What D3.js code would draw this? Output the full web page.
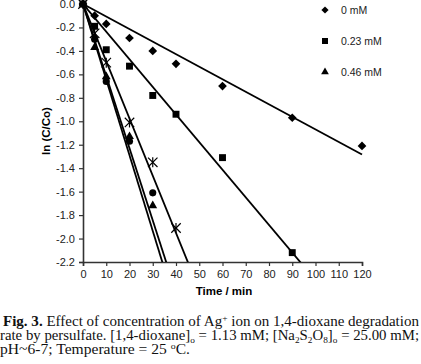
<!DOCTYPE html>
<html>
<head>
<meta charset="utf-8">
<script src="https://cdn.jsdelivr.net/npm/d3@7"></script>
<style>
body { margin: 0; background: #fff; }
svg { display: block; }
.tick text { font-family: "Liberation Sans", Arial, sans-serif; font-size: 11px; fill: #222; }
.cap { font-family: "Liberation Serif", "Times New Roman", serif; font-size: 14.3px; fill: #111; }
</style>
</head>
<body>
<script>
"use strict";
// series: time (min) vs ln(C/Co)
const xTicks = [0, 10, 20, 30, 40, 50, 60, 70, 80, 90, 100, 110, 120];
const yTicks = [0, -0.2, -0.4, -0.6, -0.8, -1.0, -1.2, -1.4, -1.6, -1.8, -2.0, -2.2];
const diamondT = [0, 5, 10, 20, 30, 40, 60, 90, 120];
const diamondV = [0, -0.10, -0.17, -0.29, -0.40, -0.51, -0.70, -0.97, -1.21];
const squareT = [0, 5, 10, 20, 30, 40, 60, 90];
const squareV = [0, -0.19, -0.39, -0.53, -0.78, -0.94, -1.31, -2.12];
const triangleT = [0, 5, 10, 20, 30];
const triangleV = [0, -0.37, -0.62, -1.13, -1.72];
const circleT = [0, 5, 10, 20, 30];
const circleV = [0, -0.30, -0.66, -1.17, -1.61];
const starT = [0, 5, 10, 20, 30, 40];
const starV = [0, -0.25, -0.50, -1.01, -1.35, -1.91];
// fitted lines: slope of ln(C/Co) per min, through origin
const fitSlopes = [-0.0107, -0.02355, -0.0645, -0.0615, -0.0488];
const fitEnds = [120, 120, 120, 120, 120];
const legendNames = ["0 mM", "0.23 mM", "0.46 mM"];

const W = 421, H = 364;
const m = {left: 83, right: 59, top: 4, bottom: 102};
const svg = d3.select("body").append("svg").attr("width", W).attr("height", H);
const x = d3.scaleLinear().domain([0, 120]).range([m.left, W - m.right]);
const y = d3.scaleLinear().domain([-2.2, 0]).range([H - m.bottom, m.top]);

svg.append("defs").append("clipPath").attr("id", "clip")
	.append("rect").attr("x", m.left).attr("y", m.top - 2).attr("width", W - m.left).attr("height", y(-2.2) - m.top + 2);

const xAxis = d3.axisBottom(x).tickValues(xTicks).tickSize(4).tickPadding(4).tickFormat(d3.format("d"));
const yAxis = d3.axisLeft(y).tickValues(yTicks).tickSize(4).tickPadding(4).tickFormat(d3.format(".1f"));
const gx = svg.append("g").attr("transform", "translate(0," + y(-2.2) + ")").call(xAxis);
const gy = svg.append("g").attr("transform", "translate(" + m.left + ",0)").call(yAxis);
[gx, gy].forEach(g => {
	g.select(".domain").attr("stroke", "#333").attr("stroke-width", 1.6);
	g.selectAll(".tick line").attr("stroke", "#333").attr("stroke-width", 1.2);
});
gy.selectAll(".tick text").text(d => d === 0 ? "0.0" : d3.format(".1f")(d).replace("−", "-"));

// regression lines
const lines = svg.append("g").attr("clip-path", "url(#clip)");
fitSlopes.forEach((s, i) => {
	lines.append("line")
		.attr("x1", x(0)).attr("y1", y(0))
		.attr("x2", x(fitEnds[i])).attr("y2", y(s * fitEnds[i]))
		.attr("stroke", "#000").attr("stroke-width", 1.8);
});

const pts = svg.append("g").attr("fill", "#000");
function sym(type, size) { return d3.symbol().type(type).size(size); }
function plot(ts, vs, type, size, rot) {
	pts.selectAll(null).data(ts).enter().append("path")
		.attr("d", sym(type, size))
		.attr("transform", (d, i) => "translate(" + x(d) + "," + y(vs[i]) + ")" + (rot ? " rotate(" + rot + ")" : ""));
}
plot(diamondT, diamondV, d3.symbolSquare, 38, 45);
plot(squareT, squareV, d3.symbolSquare, 48, 0);
plot(triangleT, triangleV, d3.symbolTriangle, 34, 0);
plot(circleT, circleV, d3.symbolCircle, 40, 0);
pts.selectAll(null).data(starT).enter().append("path")
	.attr("d", d3.symbol().type(d3.symbolTimes).size(60))
	.attr("transform", (d, i) => "translate(" + x(d) + "," + y(starV[i]) + ")")
	.attr("fill", "none").attr("stroke", "#000").attr("stroke-width", 1.2);
pts.selectAll(null).data(starT).enter().append("line")
	.attr("x1", d => x(d)).attr("x2", d => x(d))
	.attr("y1", (d, i) => y(starV[i]) - 5).attr("y2", (d, i) => y(starV[i]) + 5)
	.attr("stroke", "#000").attr("stroke-width", 1.2);

// legend
const leg = svg.append("g");
const legSym = [[d3.symbolSquare, 26, 45], [d3.symbolSquare, 36, 0], [d3.symbolTriangle, 26, 0]];
legendNames.forEach((n, i) => {
	const ly = 10 + i * 31;
	leg.append("path").attr("d", sym(legSym[i][0], legSym[i][1]))
		.attr("transform", "translate(325," + ly + ") rotate(" + legSym[i][2] + ")");
	leg.append("text").attr("x", 341).attr("y", ly + 4).text(n)
		.style("font-family", "Liberation Sans, Arial, sans-serif").style("font-size", "10.5px").style("fill", "#222");
});

// axis titles
svg.append("text").attr("x", 224).attr("y", 295).attr("text-anchor", "middle")
	.style("font-family", "Liberation Sans, Arial, sans-serif").style("font-weight", "bold").style("font-size", "11.5px")
	.text("Time / min");
svg.append("text").attr("transform", "translate(50,131) rotate(-90)").attr("text-anchor", "middle")
	.style("font-family", "Liberation Sans, Arial, sans-serif").style("font-weight", "bold").style("font-size", "11.5px")
	.text("ln (C/Co)");

// caption
const cap = svg.append("g").attr("class", "cap");
function sub(t, txt) { t.append("tspan").attr("dy", 3).style("font-size", "9px").text(txt); }
function sup(t, txt) { t.append("tspan").attr("dy", -5).style("font-size", "9px").text(txt); }
function back(t, txt, d) { t.append("tspan").attr("dy", d).text(txt); }
const c1 = cap.append("text").attr("x", 3).attr("y", 326);
c1.append("tspan").style("font-weight", "bold").text("Fig. 3.");
c1.append("tspan").text(" Effect of concentration of Ag");
sup(c1, "+");
back(c1, " ion on 1,4-dioxane degradation", 5);
const c2 = cap.append("text").attr("x", 0).attr("y", 340);
c2.append("tspan").text("rate by persulfate. [1,4-dioxane]");
sub(c2, "o");
back(c2, " = 1.13 mM; [Na", -3);
sub(c2, "2");
back(c2, "S", -3);
sub(c2, "2");
back(c2, "O", -3);
sub(c2, "8");
back(c2, "]", -3);
sub(c2, "o");
back(c2, " = 25.00 mM;", -3);
const c3 = cap.append("text").attr("x", 0).attr("y", 354);
c3.append("tspan").text("pH~6-7; Temperature = 25 ");
sup(c3, "o");
back(c3, "C.", 5);

// fit caption lines to their span in the figure
[[c1, 416], [c2, 419], [c3, 190]].forEach(([t, len]) => {
	t.attr("textLength", len).attr("lengthAdjust", "spacingAndGlyphs");
});
</script>
</body>
</html>
